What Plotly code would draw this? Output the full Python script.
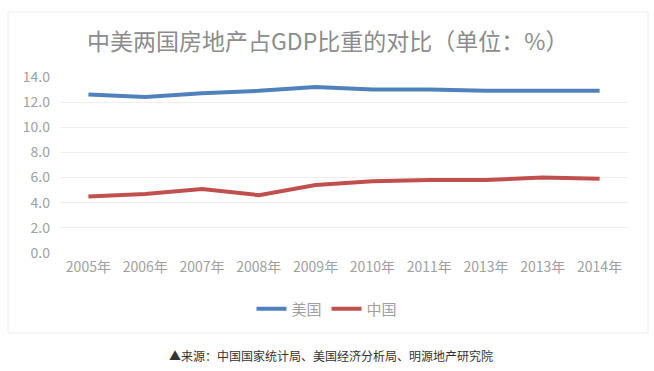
import plotly.graph_objects as go

years = ["2005年", "2006年", "2007年", "2008年", "2009年", "2010年", "2011年", "2013年", "2013年", "2014年"]
usa = [12.6, 12.4, 12.7, 12.9, 13.2, 13.0, 13.0, 12.9, 12.9, 12.9]
china = [4.5, 4.7, 5.1, 4.6, 5.4, 5.7, 5.8, 5.8, 6.0, 5.9]
idx = list(range(len(years)))

W, H = 654, 371
font = "Noto Sans CJK SC"

fig = go.Figure()
fig.add_trace(go.Scatter(x=idx, y=usa, name="美国", mode="lines",
                         line=dict(color="#4F81BD", width=4)))
fig.add_trace(go.Scatter(x=idx, y=china, name="中国", mode="lines",
                         line=dict(color="#C0504D", width=4)))

fig.update_layout(
    width=W, height=H,
    margin=dict(l=0, r=0, t=0, b=0, autoexpand=False),
    paper_bgcolor="white", plot_bgcolor="white",
    font=dict(family=font, color="#a0a0a0", size=14),
    showlegend=True,
    legend=dict(orientation="h", x=0.5, xanchor="center", y=(H - 309) / H, yanchor="middle",
                font=dict(size=15, color="#a0a0a0"), tracegroupgap=0),
    xaxis=dict(domain=[60 / W, 628 / W], range=[-0.5, 9.5], tickmode="array",
               tickvals=idx, ticktext=years, showgrid=False, zeroline=False,
               showline=False, ticks="", automargin=False, ticklabelstandoff=4,
               tickfont=dict(size=14, color="#a0a0a0")),
    yaxis=dict(domain=[(H - 253) / H, (H - 77) / H], range=[0, 14], dtick=2,
               tickformat=".1f", showgrid=True, gridcolor="#efefef", gridwidth=1,
               zeroline=False, showline=False, ticks="", automargin=False,
               ticklabelstandoff=9,
               tickfont=dict(size=14, color="#a0a0a0")),
    annotations=[
        dict(text="中美两国房地产占GDP比重的对比（单位：%）", x=328 / W, y=(H - 40) / H,
             xref="paper", yref="paper", showarrow=False, xanchor="center", yanchor="middle",
             font=dict(size=23, color="#8c8c8c", family=font)),
        dict(text="▲来源：中国国家统计局、美国经济分析局、明源地产研究院", x=331 / W, y=(H - 355) / H,
             xref="paper", yref="paper", showarrow=False, xanchor="center", yanchor="middle",
             font=dict(size=12, color="#333333", family=font)),
    ],
    shapes=[dict(type="rect", xref="paper", yref="paper", x0=8 / W, x1=648 / W,
                 y0=(H - 333) / H, y1=(H - 12) / H, line=dict(color="#ececec", width=1),
                 layer="below")],
)

fig.write_html(
    "out.html",
    config={"displayModeBar": False},
    post_script="document.documentElement.style.margin='0';document.body.style.margin='0';document.body.style.overflow='hidden';",
)
